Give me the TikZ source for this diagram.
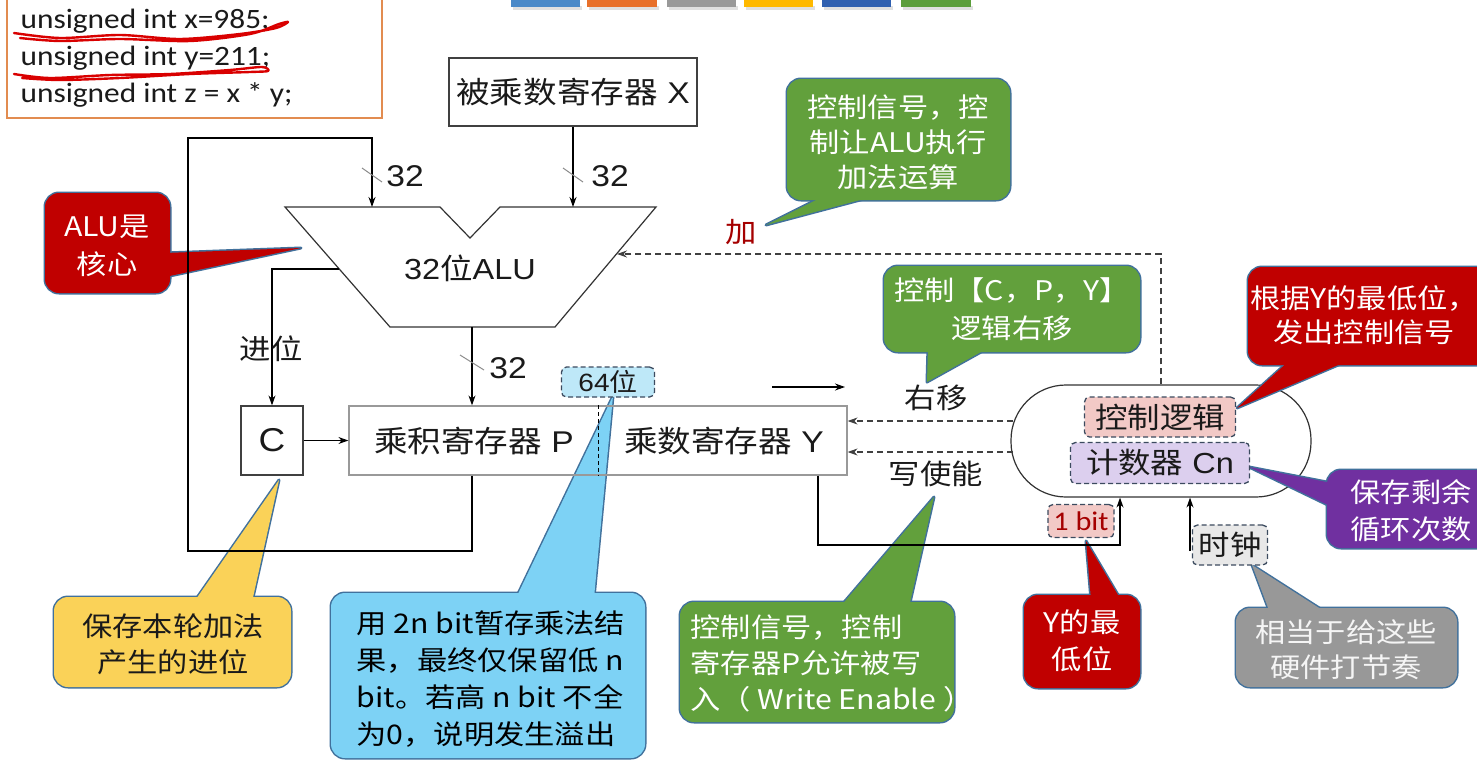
\documentclass[tikz,border=0pt]{standalone}
\usepackage{fontspec}
\setmainfont[FakeStretch=1.12]{Liberation Sans}
\newfontfamily\cjk[FakeStretch=1.12]{Noto Sans CJK SC}
\newfontfamily\calfont[FakeStretch=1.12]{Carlito}
\usetikzlibrary{arrows.meta}
\definecolor{cline}{RGB}{65,113,156}
\definecolor{cgreen}{RGB}{98,160,60}
\definecolor{cred}{RGB}{192,0,0}
\definecolor{cpurple}{RGB}{112,48,160}
\definecolor{cgray}{RGB}{152,152,152}
\definecolor{cyellow}{RGB}{250,210,88}
\definecolor{cblue}{RGB}{125,210,245}
\definecolor{tagblue}{RGB}{190,232,248}
\definecolor{tagpink}{RGB}{242,201,198}
\definecolor{taglav}{RGB}{220,207,238}
\definecolor{taggray}{RGB}{232,232,232}
\definecolor{codeorange}{RGB}{226,140,80}
\definecolor{darkred}{RGB}{165,0,0}
\definecolor{ink}{RGB}{26,26,26}
\definecolor{tagline}{RGB}{60,75,95}
\definecolor{barA}{RGB}{74,137,200}
\definecolor{barB}{RGB}{232,112,42}
\definecolor{barC}{RGB}{153,153,153}
\definecolor{barD}{RGB}{255,185,0}
\definecolor{barE}{RGB}{48,96,176}
\definecolor{barF}{RGB}{92,158,60}
\newcommand\fsz[2]{\fontsize{#1}{#2}\selectfont}
\newcommand\mycallout[3]{%
  \draw[line width=3pt,draw=cline,rounded corners=14pt] #2;
  \draw[line width=3pt,draw=cline,line join=round] #3;
  \fill[#1,rounded corners=14pt] #2;
  \fill[#1] #3;}
\begin{document}
\begin{tikzpicture}[x=1pt,y=-1pt,line width=1.2pt,
  >={Stealth[length=10pt,width=7pt]},
  reg/.style={draw=black!75,line width=1.2pt,inner sep=0pt,text=ink,font=\fsz{30}{36}},
  lbl/.style={inner sep=0pt,text=ink,font=\fsz{28}{34}\cjk},
  num/.style={inner sep=0pt,text=ink,font=\fsz{30}{36}},
  tick/.style={draw=black!45,line width=1pt},
  tagbox/.style={draw=tagline,dashed,dash pattern=on 5pt off 3pt,rounded corners=5pt,inner sep=0pt,line width=1.3pt,text=ink},
  ctext/.style={align=center,inner sep=0pt,text=white,font=\fsz{27}{36}\cjk},
  dline/.style={dashed,dash pattern=on 6pt off 4pt,line width=1.1pt,draw=black!75},
  code/.style={anchor=base west,inner sep=0pt,text=ink,font=\fsz{28}{32}\calfont},
  scribble/.style={draw=red!85!black,line width=2.4pt,line cap=round,line join=round}]
\path[use as bounding box] (0,0) rectangle (1477,763);
\fill[white] (0,0) rectangle (1477,763);
% top colour bars
\foreach \a/\b/\c in {511/580/barA,587/657/barB,667/736/barC,744/813/barD,822/891/barE,901/971/barF}{
  \fill[black!12] (\a+2,6) rectangle (\b+2,10);
  \fill[\c] (\a,-3) rectangle (\b,7);}
% code box
\draw[codeorange,line width=1.3pt] (7,-5) rectangle (382,118);
\node[code] (c1) at (20,28) {unsigned int x=985;};
\node[code] (c2) at (20,65) {unsigned int y=211;};
\node[code] (c3) at (20,102) {unsigned int z = x * y;};
\draw[scribble] plot[smooth] coordinates {(14,33) (60,38) (120,35) (180,39) (240,34) (276,28) (288,22) (279,24) (250,34) (190,41) (120,39) (60,41) (20,38)};
\draw[scribble] plot[smooth] coordinates {(14,74) (50,78) (110,75) (170,74) (230,70) (262,67) (268,71) (250,72) (190,74) (120,78) (60,80) (22,78)};
% ---------- callouts behind the diagram ----------
\mycallout{cyellow}{(54,597) rectangle (291,687)}{(194,602) -- (279,480) -- (252,602) -- cycle}
\node[ctext,text=ink] (tyellow) at (173,644) {保存本轮加法\\产生的进位};
\mycallout{cblue}{(331,593) rectangle (645,758)}{(516,598) -- (613,396) -- (594,598) -- cycle}
\node[ctext,text=black,align=left,anchor=west,font=\fsz{27}{37}\cjk] (tblue) at (356,679) {用 2n bit暂存乘法结\\果，最终仅保留低 n\\bit。若高 n bit 不全\\为0，说明发生溢出};
\mycallout{cred}{(45,193) rectangle (170,293)}{(165,253) -- (301,248) -- (165,277) -- cycle}
\node[ctext,font=\fsz{27}{38}\cjk] (talu) at (107,246) {ALU是\\核心};
\mycallout{cgreen}{(680,602) rectangle (954,722)}{(840,607) -- (934,497) -- (909,607) -- cycle}
\node[ctext,align=left,anchor=west,font=\fsz{27}{36}\cjk] (twe) at (690,663) {控制信号，控制\\寄存器P允许被写\\入（ Write Enable ）};
\mycallout{cred}{(1024,595) rectangle (1140,688)}{(1091,600) -- (1086,541) -- (1121,600) -- cycle}
\node[ctext,font=\fsz{27}{37}\cjk] (tlow) at (1082,641) {Y的最\\低位};
% ---------- diagram ----------
\node[reg,minimum width=248pt,minimum height=68pt] (X) at (573,92) {{\cjk 被乘数寄存器} X};
\coordinate (aluTL) at (285,207);
\coordinate (aluN1) at (440,207);
\coordinate (aluN) at (470,238);
\coordinate (aluN2) at (500,207);
\coordinate (aluTR) at (656,207);
\coordinate (aluBR) at (555,327);
\coordinate (aluBL) at (390,327);
\draw[draw=black!80] (aluTL) -- (aluN1) -- (aluN) -- (aluN2) -- (aluTR) -- (aluBR) -- (aluBL) -- cycle;
\node[inner sep=0pt,text=ink,font=\fsz{29}{34}] (alu) at (470,268) {32{\cjk 位}ALU};
\coordinate (inL) at (372,207);
\coordinate (inR) at (573,207);
\coordinate (aluOut) at (472,327);
\coordinate (carry) at (339,269);
\coordinate (addTip) at (617,254);
\coordinate (fbB) at (188,551);
\coordinate (fbT) at (188,138);
\node[reg,font=\fsz{33}{36},minimum width=62pt,minimum height=69pt] (C) at (272,440.5) {C};
\node[reg,draw=black!40,minimum width=498pt,minimum height=69pt] (PY) at (598,440.5) {};
\node[num] (Ptxt) at (474,441) {{\cjk 乘积寄存器} P};
\node[num] (Ytxt) at (724,441) {{\cjk 乘数寄存器} Y};
\draw[dashed,dash pattern=on 4pt off 3pt,line width=1pt] (PY.north) -- (PY.south);
% buses
\draw[->] (X.south) -- (inR);
\draw[tick] (563,168) -- (583,182);
\node[num] (n32b) at (610,176) {32};
\draw[->] (PY.south -| aluOut) |- (fbB) -- (fbT) -| (inL);
\draw[tick] (362,168) -- (382,182);
\node[num] (n32a) at (405,176) {32};
\draw[->] (aluOut) -- (aluOut |- PY.north);
\draw[tick] (460,355) -- (484,370);
\node[num] (n32c) at (508,368) {32};
\draw[->] (carry) -| (C.north);
\node[lbl] (jinwei) at (271,349) {进位};
\draw[->] (C.east) -- (C.east -| PY.west);
% shift arrow
\coordinate (shA) at (772,387);
\coordinate (shB) at (845,387);
\draw[->] (shA) -- (shB);
% control unit
\node[draw=black!80,line width=1.2pt,minimum width=300pt,minimum height=112pt,rounded corners=55pt,inner sep=0pt] (ctrl) at (1161,441) {};
\coordinate (s1) at (1013,421);
\coordinate (s2) at (1013,452);
\draw[dline,->] (s1) -- (s1 -| PY.east);
\draw[dline,->] (s2) -- (s2 -| PY.east);
\node[lbl] (youyi) at (936,398) {右移};
\node[lbl] (xie) at (936,474) {写使能};
\draw[dline,->] (ctrl.north) |- (addTip);
\node[lbl,text=darkred] (jia) at (741,232) {加};
\coordinate (ybit) at (1120,545);
\draw[->] (PY.south -| 818,0) |- (ybit) -- (ybit |- ctrl.south);
\coordinate (clkin) at (1190,551);
\draw[->] (clkin) -- (clkin |- ctrl.south);
% tags over pointers
\node[tagbox,fill=tagblue,minimum width=93pt,minimum height=30pt,font=\fsz{25}{30}] (b64) at (608,382) {64{\cjk 位}};
\node[tagbox,fill=tagpink,minimum width=66pt,minimum height=33pt,font=\fsz{27}{30}\calfont,text=darkred] (bit1) at (1081,521) {1 bit};
% ---------- callouts on top ----------
\mycallout{cgreen}{(787,79) rectangle (1010,200)}{(826,195) -- (766,225) -- (879,195) -- cycle}
\node[ctext,font=\fsz{27}{35}\cjk] (tadd) at (898,142) {控制信号，控\\制让ALU执行\\加法运算};
\mycallout{cgreen}{(884,266) rectangle (1140,352)}{(928,347) -- (927,382) -- (990,347) -- cycle}
\node[ctext,font=\fsz{27}{38}\cjk] (tshift) at (1012,309) {控制【C，P，Y】\\逻辑右移};
\mycallout{cred}{(1248,267) rectangle (1500,365)}{(1290,360) -- (1237,408) -- (1350,360) -- cycle}
\node[ctext,font=\fsz{27}{34}\cjk] (tctl) at (1364,315) {根据Y的最低位，\\发出控制信号};
\mycallout{cpurple}{(1327,470) rectangle (1500,548)}{(1332,483) -- (1249,467) -- (1332,507) -- cycle}
\node[ctext,font=\fsz{27}{37}\cjk] (tcnt) at (1411,511) {保存剩余\\循环次数};
\mycallout{cgray}{(1236,608) rectangle (1457,687)}{(1270,613) -- (1252,565) -- (1327,613) -- cycle}
\node[ctext,text=white!96!black,font=\fsz{27}{35}\cjk] (tclk) at (1346,650) {相当于给这些\\硬件打节奏};
% tags inside the control unit
\node[tagbox,fill=tagpink,minimum width=151pt,minimum height=40pt,font=\fsz{29}{34}\cjk] (logic) at (1160,417) {控制逻辑};
\node[tagbox,fill=taglav,minimum width=179pt,minimum height=41pt,font=\fsz{29}{34}] (cnt) at (1160,463) {{\cjk 计数器} Cn};
\node[tagbox,fill=taggray,minimum width=75pt,minimum height=40pt,font=\fsz{28}{34}\cjk] (clk) at (1230,545) {时钟};
\end{tikzpicture}
\end{document}
